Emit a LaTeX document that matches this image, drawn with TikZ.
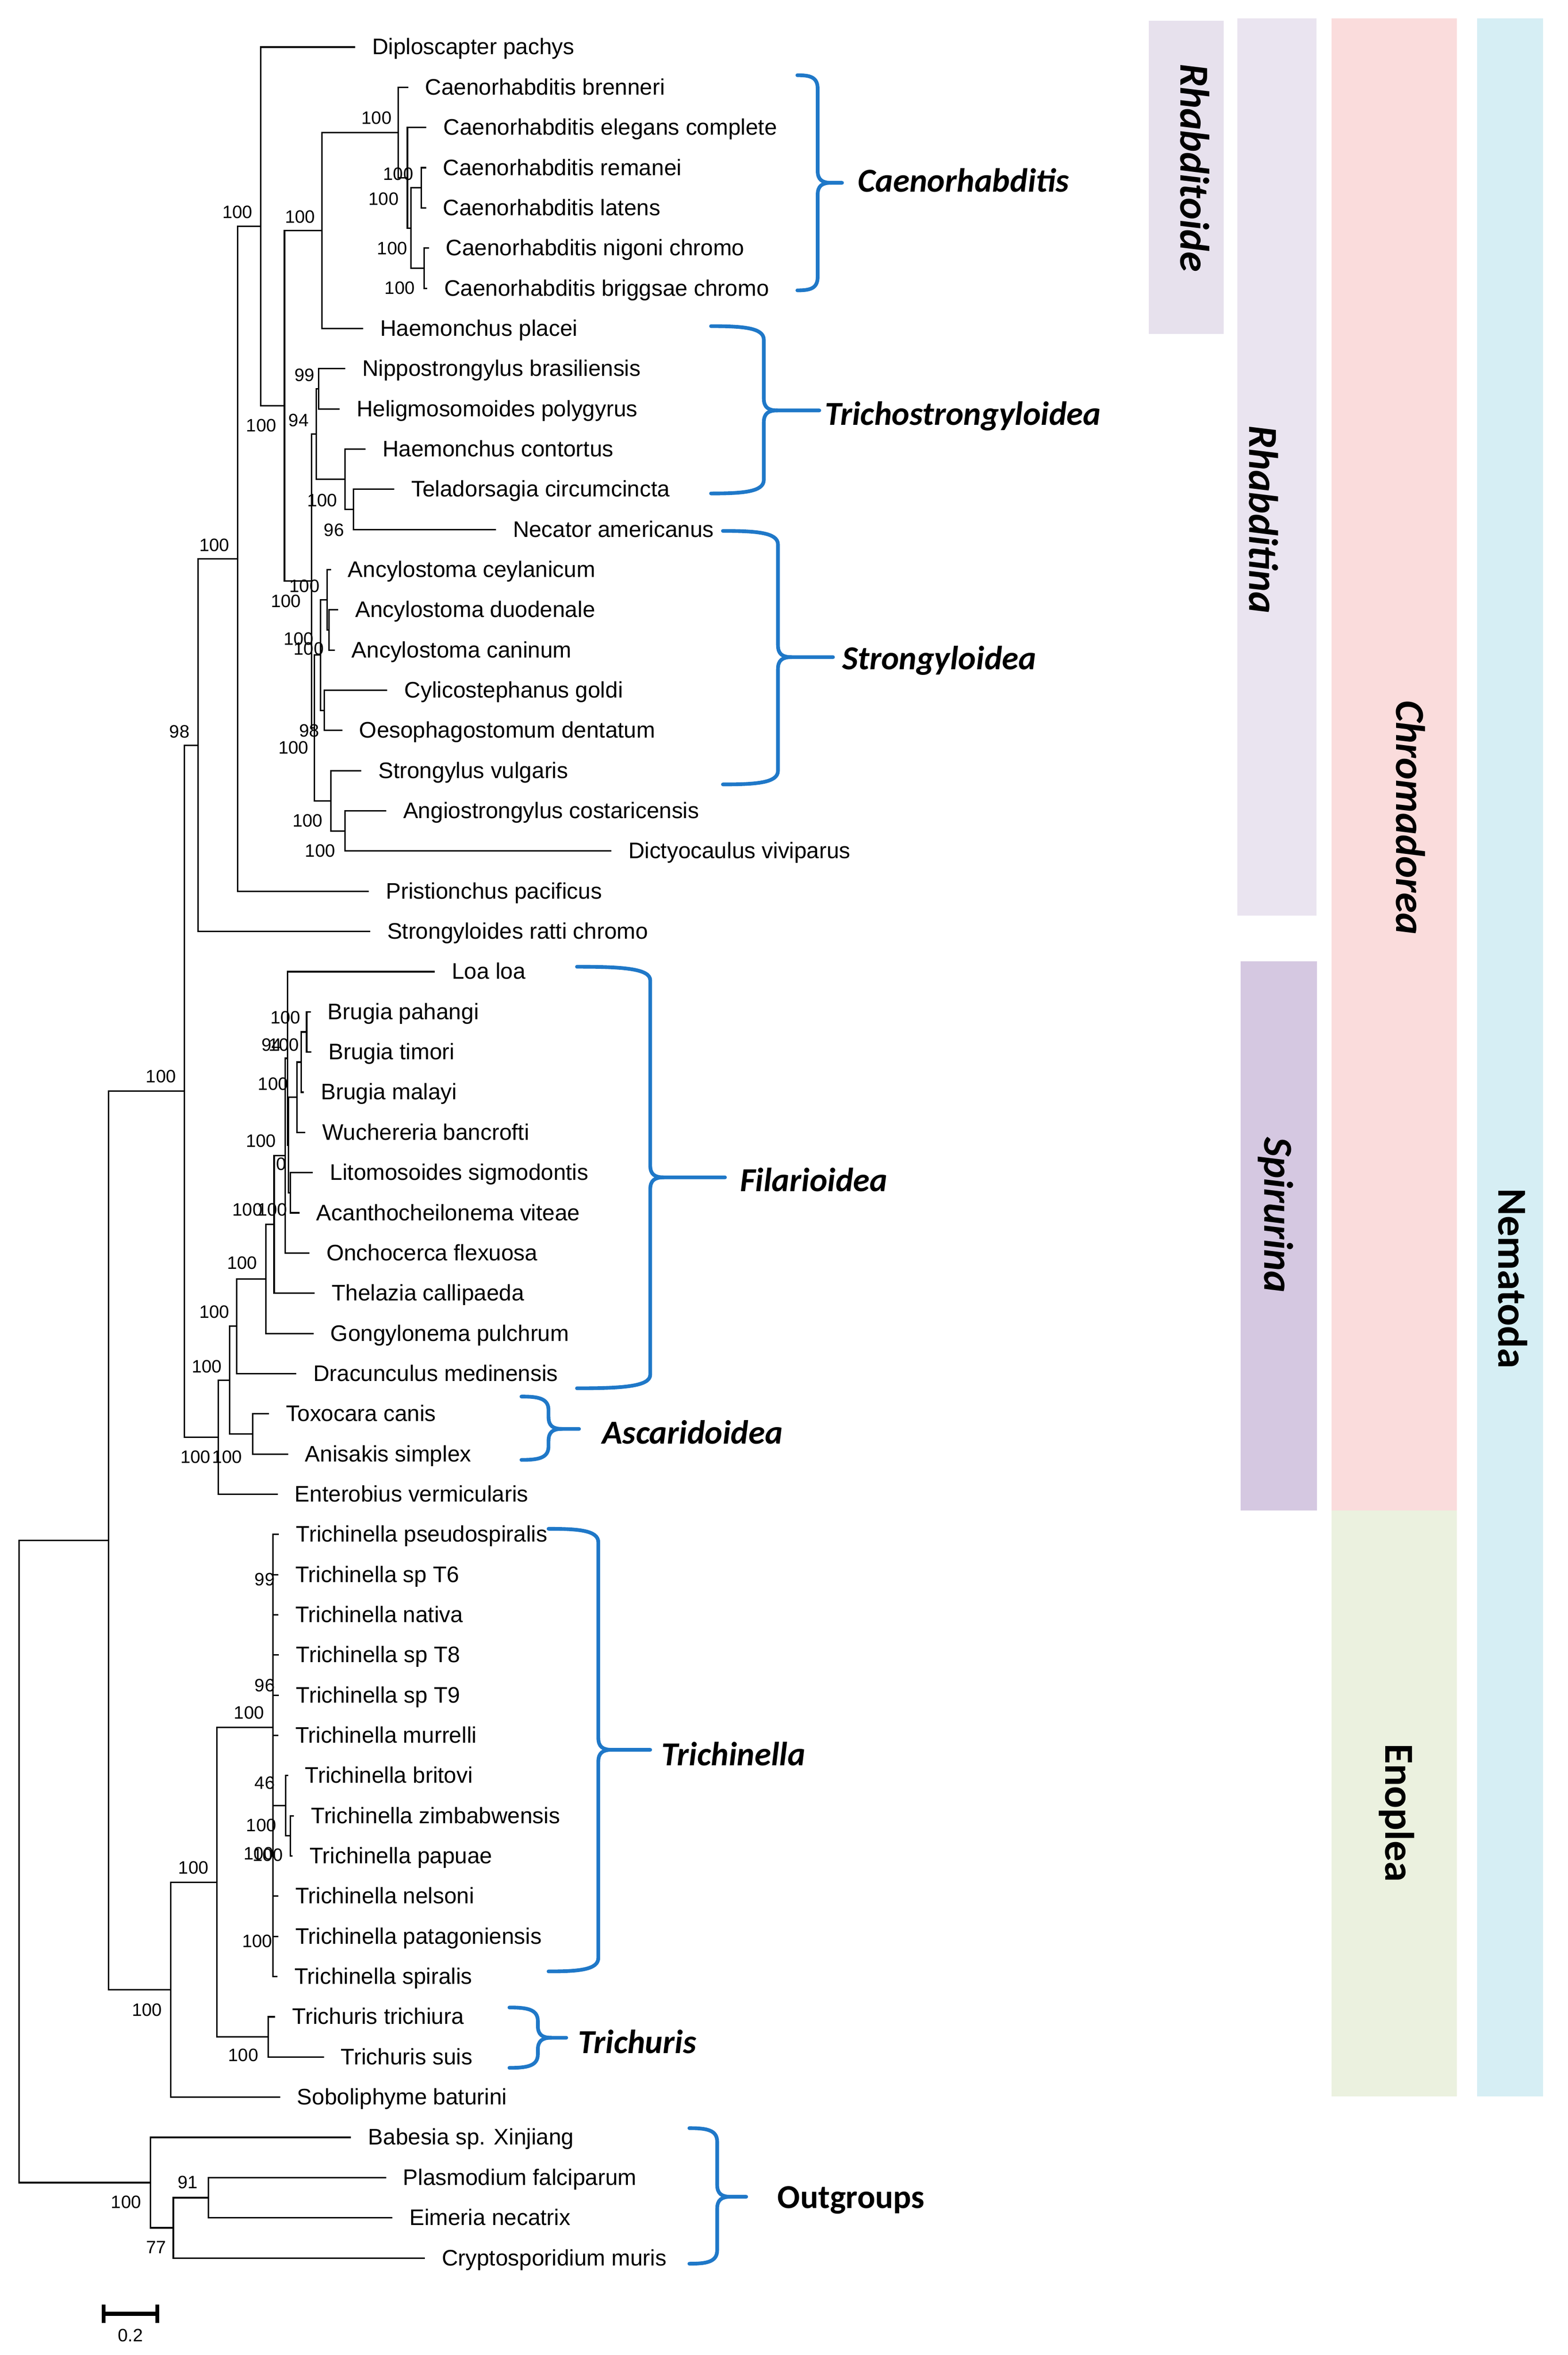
\documentclass[tikz,border=0pt]{standalone}
\usepackage{fontspec}
\setmainfont{Liberation Sans}
\newfontfamily\calfont{Carlito}
\definecolor{brc}{HTML}{1F78C8}
\definecolor{cRhoid}{HTML}{E7E1ED}
\definecolor{cRhina}{HTML}{EAE4F0}
\definecolor{cSpir}{HTML}{D5C8E1}
\definecolor{cChrom}{HTML}{FADCDC}
\definecolor{cEnop}{HTML}{EBF1DF}
\definecolor{cNema}{HTML}{D6EEF4}
\newcommand{\cladebrace}[6]{%
  \draw[brace] (#1,#3) .. controls ({#2-0.4*(#2-#1)},#3) and (#2,{#3+1}) .. (#2,{#3+9})
    -- (#2,{#4-8}) .. controls (#2,{#4-2}) and ({#2+3},#4) .. ({#2+9},#4) -- (#6,#4);
  \draw[brace] ({#2+9},#4) .. controls ({#2+3},#4) and (#2,{#4+2}) .. (#2,{#4+8})
    -- (#2,{#5-9}) .. controls (#2,{#5-1}) and ({#2-0.4*(#2-#1)},#5) .. (#1,#5);
}
\begin{document}
\begin{tikzpicture}[x=0.02cm,y=-0.02cm,
  tree/.style={line width=0.55pt, line cap=rect},
  leaf/.style={anchor=base west, inner sep=0pt, font=\fontsize{8.5}{10}\selectfont},
  boot/.style={anchor=center, inner sep=0pt, font=\fontsize{6.8}{8}\selectfont},
  clade/.style={anchor=base west, inner sep=0pt, font=\calfont\bfseries\itshape\fontsize{12.7}{15}\selectfont},
  cladeup/.style={anchor=base west, inner sep=0pt, font=\calfont\bfseries\fontsize{12.7}{15}\selectfont},
  barlab/.style={anchor=base, rotate=-90, inner sep=0pt, font=\calfont\bfseries\itshape\fontsize{15.6}{18}\selectfont},
  barlabup/.style={anchor=base, rotate=-90, inner sep=0pt, font=\calfont\bfseries\fontsize{15.6}{18}\selectfont},
  brace/.style={draw=brc, line width=1.4pt, line cap=round, line join=round}]
\fill[white] (0,0) rectangle (1042,1565.4);
\useasboundingbox (0,0) rectangle (1042,1565.4);

% ---- taxon bars ----
\fill[cRhoid] (763.5,13.8) rectangle (813.5,222);
\fill[cRhina] (822.5,12.1) rectangle (875,608.5);
\fill[cSpir] (824.5,639) rectangle (875.5,1004);
\fill[cChrom] (885,12.1) rectangle (968.5,1004);
\fill[cEnop] (885,1004) rectangle (968.5,1393.5);
\fill[cNema] (981.7,12.1) rectangle (1025.6,1393.5);
\node[barlab] (lRhoid) at (784.7,111.5) {Rhabditoide};
\node[barlab] (lRhina) at (830.5,345.3) {Rhabditina};
\node[barlab] (lChrom) at (928,543.5) {Chromadorea};
\node[barlab] (lSpir) at (840.5,807.7) {Spirurina};
\node[barlabup] (lNema) at (996,850) {Nematoda};
\node[barlabup] (lEnop) at (921,1205) {Enoplea};

% ---- internal nodes ----
\coordinate (R) at (12.7,1237.37);
\coordinate (nNem) at (72.1,1023.94);
\coordinate (nChr) at (122.7,725.3);
\coordinate (nRhb) at (131.6,495.3);
\coordinate (n158) at (158,371.46);
\coordinate (n173) at (173.4,150.5);
\coordinate (n189) at (189.1,269.7);
\coordinate (n214) at (214,153.21);
\coordinate (nCae) at (264.7,88.08);
\coordinate (nCae2) at (270.8,118.14);
\coordinate (nCae3) at (273.1,151.54);
\coordinate (nRL) at (280,124.82);
\coordinate (nNB) at (282,178.26);
\coordinate (n207) at (207.1,386.18);
\coordinate (n94) at (210.2,288.48);
\coordinate (n99) at (211.7,258.42);
\coordinate (nHC) at (229.4,318.54);
\coordinate (nTN) at (235.1,338.58);
\coordinate (nStg) at (209,483.87);
\coordinate (nAC) at (213,435.44);
\coordinate (nAnc) at (217.5,398.7);
\coordinate (nDC) at (218.6,418.74);
\coordinate (nCO) at (215.6,472.18);
\coordinate (nSAD) at (219.8,532.3);
\coordinate (nAD) at (229.4,552.34);
\coordinate (nSp1) at (145,955.3);
\coordinate (nSp2) at (152.7,917.37);
\coordinate (nAsc) at (168,953.14);
\coordinate (n157) at (157.3,881.59);
\coordinate (n176) at (176.6,850.12);
\coordinate (n181) at (182.2,813.9);
\coordinate (nOth) at (189.5,768.19);
\coordinate (nLoa) at (191.2,703.48);
\coordinate (nK) at (191.8,761.09);
\coordinate (nBW) at (197.5,729.36);
\coordinate (nBrug) at (200.3,705.98);
\coordinate (nBPT) at (203.8,685.94);
\coordinate (nLA) at (193,792.82);
\coordinate (nEnop) at (113.5,1322.57);
\coordinate (nEn2) at (144.2,1251.12);
\coordinate (nTri) at (181.4,1148.3);
\coordinate (nBZP) at (190,1200.3);
\coordinate (nZP) at (193,1220.34);
\coordinate (nTcs) at (178.4,1353.94);
\coordinate (nOut) at (100,1450.8);
\coordinate (nPEC) at (115.2,1480.86);
\coordinate (nPE) at (138.4,1460.82);

% ---- leaves ----
\foreach \i/\tx/\nm in {
 1/235.5/Diploscapter pachys,
 2/270.8/Caenorhabditis brenneri,
 3/283/Caenorhabditis elegans complete,
 4/282.7/Caenorhabditis remanei,
 5/282.7/Caenorhabditis latens,
 6/284.6/Caenorhabditis nigoni chromo,
 7/283.5/Caenorhabditis briggsae chromo,
 8/240.9/Haemonchus placei,
 9/229/Nippostrongylus brasiliensis,
 10/225.2/Heligmosomoides polygyrus,
 11/242.4/Haemonchus contortus,
 12/261.6/Teladorsagia circumcincta,
 13/329.1/Necator americanus,
 14/219.5/Ancylostoma ceylanicum,
 15/224.4/Ancylostoma duodenale,
 16/222/Ancylostoma caninum,
 17/257/Cylicostephanus goldi,
 18/227/Oesophagostomum dentatum,
 19/239.7/Strongylus vulgaris,
 20/256.2/Angiostrongylus costaricensis,
 21/405.8/Dictyocaulus viviparus,
 22/244.7/Pristionchus pacificus,
 23/245.5/Strongyloides ratti chromo,
 24/288.5/Loa loa,
 25/206/Brugia pahangi,
 26/206.5/Brugia timori,
 27/201.5/Brugia malayi,
 28/202.5/Wuchereria bancrofti,
 29/207.5/Litomosoides sigmodontis,
 30/198.5/Acanthocheilonema viteae,
 31/205.2/Onchocerca flexuosa,
 32/208.7/Thelazia callipaeda,
 33/207.9/Gongylonema pulchrum,
 34/196.4/Dracunculus medinensis,
 35/178.4/Toxocara canis,
 36/191/Anisakis simplex,
 37/184.1/Enterobius vermicularis,
 38/185/Trichinella pseudospiralis,
 39/184.5/Trichinella sp T6,
 40/184.5/Trichinella nativa,
 41/185/Trichinella sp T8,
 42/185/Trichinella sp T9,
 43/184.5/Trichinella murrelli,
 44/191/Trichinella britovi,
 45/195/Trichinella zimbabwensis,
 46/194/Trichinella papuae,
 47/184.5/Trichinella nelsoni,
 48/184.5/Trichinella patagoniensis,
 49/184/Trichinella spiralis,
 50/182.5/Trichuris trichiura,
 51/214.8/Trichuris suis,
 52/185.7/Soboliphyme baturini,
 53/232.9/Babesia sp. Xinjiang,
 54/256.1/Plasmodium falciparum,
 55/260.3/Eimeria necatrix,
 56/281.9/Cryptosporidium muris}{
  \pgfmathsetmacro\yy{31.3+(\i-1)*26.72}
  \coordinate (t\i) at (\tx,\yy);
  \node[leaf] (L\i) at (\tx+11.5,\yy+5) {\nm};
}

% ---- branches ----
\foreach \p/\c in {R/nNem, R/nOut, nNem/nChr, nNem/nEnop, nChr/nRhb, nChr/nSp1,
  nRhb/n158, nRhb/t23, n158/n173, n158/t22, n173/t1, n173/n189, n189/n214, n189/n207,
  n214/nCae, n214/t8, nCae/t2, nCae/nCae2, nCae2/t3, nCae2/nCae3, nCae3/nRL, nCae3/nNB,
  nRL/t4, nRL/t5, nNB/t6, nNB/t7, n207/n94, n207/nStg, n94/n99, n94/nHC, n99/t9, n99/t10,
  nHC/t11, nHC/nTN, nTN/t12, nTN/t13, nStg/nAC, nStg/nSAD, nAC/nAnc, nAC/nCO,
  nAnc/t14, nAnc/nDC, nDC/t15, nDC/t16, nCO/t17, nCO/t18, nSAD/t19, nSAD/nAD,
  nAD/t20, nAD/t21, nSp1/nSp2, nSp1/t37, nSp2/n157, nSp2/nAsc, nAsc/t35, nAsc/t36,
  n157/n176, n157/t34, n176/n181, n176/t33, n181/nOth, n181/t32, nOth/nLoa, nOth/t31,
  nLoa/t24, nLoa/nK, nK/nBW, nK/nLA, nBW/nBrug, nBW/t28, nBrug/nBPT, nBrug/t27,
  nBPT/t25, nBPT/t26, nLA/t29, nLA/t30, nEnop/nEn2, nEnop/t52, nEn2/nTri, nEn2/nTcs,
  nTcs/t50, nTcs/t51, nTri/t38, nTri/t39, nTri/t40, nTri/t41, nTri/t42, nTri/t43,
  nTri/nBZP, nTri/t47, nTri/t48, nTri/t49, nBZP/t44, nBZP/nZP, nZP/t45, nZP/t46,
  nOut/t53, nOut/nPEC, nPEC/nPE, nPEC/t56, nPE/t54, nPE/t55}{
  \draw[tree] (\p) |- (\c);
}

% ---- bootstrap values ----
\foreach \bx/\by/\bt [count=\k] in {
 250.3/78.5/100, 264.7/115.5/100, 255/132.3/100, 157.8/141/100, 199.5/144/100,
 260.7/165/100, 265.7/191.3/100, 202.4/249.2/99, 173.7/282.8/100, 198.5/279.4/94,
 214.1/332.5/100, 222/352.3/96, 142.4/362.4/100, 202.4/389.5/100, 190/399.6/100,
 198.5/424.6/100, 205.2/431.3/100, 205.6/485.7/98, 119.3/486.3/98, 195/497.1/100,
 204.5/545.4/100, 212.8/565.5/100, 189.8/676.4/100, 180.5/694.5/94, 188.7/694.5/100,
 181.5/720.4/100, 173.5/758.4/100, 187/773.6/0, 107/715.4/100, 164.5/804.2/100,
 181/804.2/100, 161/839.6/100, 142.4/872/100, 137.4/908.2/100, 130/968.6/100,
 151/968.6/100, 176/1049.9/99, 176/1120.4/96, 165.5/1138.5/100, 176/1185/46,
 173.7/1213.2/100, 171.9/1232/100, 178/1233/100, 171/1290.4/100, 128.6/1241.4/100,
 97.8/1336/100, 161.7/1366.2/100, 124.9/1450.6/91, 83.8/1463.7/100, 103.8/1493.8/77}{
  \node[boot] (b\k) at (\bx,\by) {\bt};
}

% ---- clade braces and names ----
\cladebrace{530}{543.5}{50}{121.5}{193}{559.7}
\cladebrace{472.6}{507.7}{216.8}{272.8}{328}{544.6}
\cladebrace{480.5}{517.1}{352.9}{436.8}{521.4}{553.7}
\cladebrace{383.5}{432.2}{642.6}{782.6}{922.8}{481.9}
\cladebrace{346.6}{364.6}{928.3}{949.8}{970.4}{384.9}
\cladebrace{364.6}{397.7}{1016.2}{1163.1}{1310.4}{432.2}
\cladebrace{338.6}{357.5}{1334.4}{1354.5}{1374.5}{376.4}
\cladebrace{458.2}{476.7}{1414.6}{1460.2}{1504.7}{496}
\node[clade] (cCae) at (570,127.5) {Caenorhabditis};
\node[clade] (cTrs) at (548,282.4) {Trichostrongyloidea};
\node[clade] (cStr) at (559.5,445) {Strongyloidea};
\node[clade] (cFil) at (491.5,791.8) {Filarioidea};
\node[clade] (cAsc) at (400,959.6) {Ascaridoidea};
\node[clade] (cTrl) at (439.5,1173.7) {Trichinella};
\node[clade] (cTru) at (384,1365) {Trichuris};
\node[cladeup] (cOut) at (516.5,1468) {Outgroups};

% ---- scale bar ----
\coordinate (sbL) at (68.8,1538);
\coordinate (sbR) at (104.6,1538);
\draw[line width=1.6pt] (sbL) -- (sbR);
\draw[line width=1.4pt] ([yshift=0.12cm]sbL) -- ([yshift=-0.12cm]sbL);
\draw[line width=1.4pt] ([yshift=0.12cm]sbR) -- ([yshift=-0.12cm]sbR);
\node[boot] (sbT) at (86.7,1552.5) {0.2};
\end{tikzpicture}
\end{document}
